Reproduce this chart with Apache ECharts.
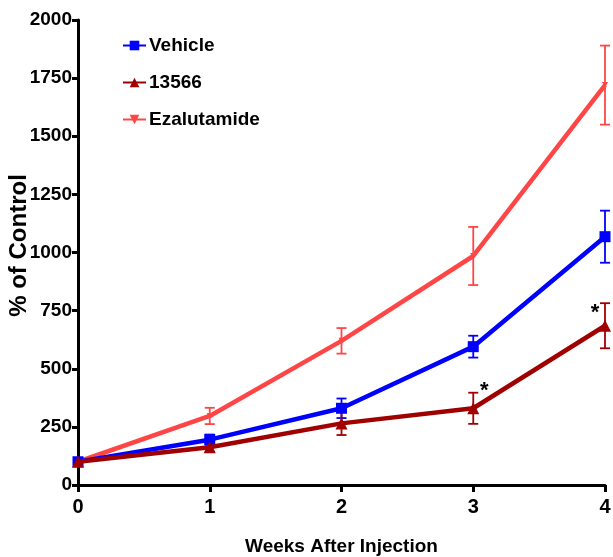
<!DOCTYPE html>
<html><head><meta charset="utf-8">
<script src="https://cdn.jsdelivr.net/npm/echarts@6/dist/echarts.min.js"></script>
<style>html,body{margin:0;padding:0;background:#fff}#c{width:613px;height:557px}</style>
</head><body><div id="c"></div>
<script>
var weeks = [0, 1, 2, 3, 4];
var vehicle = [100, 195, 330, 595, 1068];
var vehicleErr = [10, 22, 42, 47, 112];
var cmpd = [100, 162, 265, 330, 685];
var cmpdErr = [8, 18, 50, 67, 97];
var cmpdSig = [false, false, false, true, true];
var ezal = [100, 297, 620, 985, 1720];
var ezalErr = [8, 35, 55, 125, 170];
var yTicks = [0, 250, 500, 750, 1000, 1250, 1500, 1750, 2000];
var xTicks = [0, 1, 2, 3, 4];

var C_VEH = '#0000FF', C_CMP = '#A00000', C_EZA = '#FF4646';
var FONT = 'Liberation Sans';

function pairs(v){ return weeks.map(function(w,i){return [w, v[i]];}); }
function errData(v,e,s){ return weeks.map(function(w,i){return [w, v[i]-e[i], v[i]+e[i], s ? (s[i]?1:0) : 0];}); }

function errSeries(name, v, e, color, s){
  return {
    type:'custom', name:name+'_err', z:3, silent:true,
    data: errData(v,e,s),
    renderItem: function(params, api){
      var x = api.value(0), lo = api.value(1), hi = api.value(2), sig = api.value(3);
      var pLo = api.coord([x, lo]), pHi = api.coord([x, hi]);
      var w = 5;
      var st = {stroke:color, lineWidth:1.8};
      var ch = [
        {type:'line', shape:{x1:pLo[0],y1:pLo[1],x2:pHi[0],y2:pHi[1]}, style:st},
        {type:'line', shape:{x1:pLo[0]-w,y1:pLo[1],x2:pLo[0]+w,y2:pLo[1]}, style:st},
        {type:'line', shape:{x1:pHi[0]-w,y1:pHi[1],x2:pHi[0]+w,y2:pHi[1]}, style:st}
      ];
      if (sig) {
        var left = x >= 4;
        ch.push({type:'text', z2:10, style:{text:'*',
          x: left ? pHi[0]-10 : pHi[0]+11,
          y: left ? pHi[1]+10 : pHi[1]-2,
          fill:'#000', font:'bold 22px "'+FONT+'"', align:'center', verticalAlign:'middle'}});
      }
      return {type:'group', children:ch};
    }
  };
}

var chart = echarts.init(document.getElementById('c'));
chart.setOption({
  animation:false,
  grid:{left:78, right:8, top:20, bottom:72, outerBoundsMode:'none', containLabel:false},
  legend:{
    orient:'vertical', left:117, top:31, itemGap:18, itemWidth:23, itemHeight:12,
    data:['Vehicle','13566','Ezalutamide'],
    textStyle:{fontFamily:FONT, fontWeight:'bold', fontSize:19, color:'#000', padding:[0,0,0,-2]}
  },
  xAxis:{
    type:'value', min:0, max:4, interval:1,
    name:'Weeks After Injection', nameLocation:'middle', nameGap:52,
    nameTextStyle:{fontFamily:FONT, fontWeight:'bold', fontSize:19, color:'#000'},
    axisLine:{lineStyle:{color:'#000', width:3}},
    axisTick:{show:true, length:7, lineStyle:{color:'#000', width:3}},
    axisLabel:{fontFamily:FONT, fontWeight:'bold', fontSize:20, color:'#000', margin:12,
      formatter:function(v){return xTicks.indexOf(v)>=0 ? String(v) : '';}},
    splitLine:{show:false}
  },
  yAxis:{
    type:'value', min:0, max:2000, interval:250,
    name:'% of Control', nameLocation:'middle', nameGap:47, nameRotate:90, nameMoveOverlap:false,
    nameTextStyle:{fontFamily:FONT, fontWeight:'bold', fontSize:24, color:'#000', padding:[0,0,0,14]},
    axisLine:{show:true, lineStyle:{color:'#000', width:3}},
    axisTick:{show:true, length:6, lineStyle:{color:'#000', width:3}},
    axisLabel:{fontFamily:FONT, fontWeight:'bold', fontSize:19, color:'#000', margin:6,
      formatter:function(v){return yTicks.indexOf(v)>=0 ? String(v) : '';}},
    splitLine:{show:false}
  },
  series:[
    errSeries('Ezalutamide', ezal, ezalErr, C_EZA),
    errSeries('Vehicle', vehicle, vehicleErr, C_VEH),
    errSeries('13566', cmpd, cmpdErr, C_CMP, cmpdSig),
    {name:'Ezalutamide', type:'line', data:pairs(ezal), color:C_EZA, z:4,
      lineStyle:{width:4.5, color:C_EZA}, symbol:'triangle', symbolRotate:180, symbolSize:6,
      itemStyle:{color:C_EZA}},
    {name:'Vehicle', type:'line', data:pairs(vehicle), color:C_VEH, z:5,
      lineStyle:{width:4.5, color:C_VEH}, symbol:'rect', symbolSize:11,
      itemStyle:{color:C_VEH}},
    {name:'13566', type:'line', data:pairs(cmpd), color:C_CMP, z:6,
      lineStyle:{width:4.5, color:C_CMP}, symbol:'triangle', symbolSize:12,
      itemStyle:{color:C_CMP}}
  ]
});
</script></body></html>
